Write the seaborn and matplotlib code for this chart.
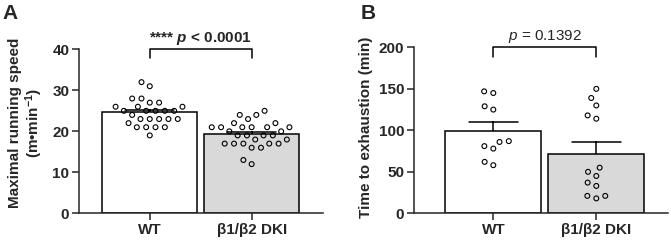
"""Figura com dois paineis: velocidade maxima e tempo ate exaustao"""

import matplotlib
matplotlib.use("Agg")
import matplotlib.pyplot as plt
import seaborn as sns
import pandas as pd

# Grupos e cores das barras
grupos = ["WT", "β1/β2 DKI"]
cores_barras = ["white", "#d9d9d9"]

# Painel A: velocidade maxima de corrida (m/min)
velocidade_wt = [32, 31, 28, 28, 27, 27, 26, 26, 26, 25, 25, 25, 25, 25, 24,
                 23, 23, 23, 23, 23, 22, 21, 21, 21, 21, 19]
velocidade_dki = [25, 24, 24, 23, 22, 22, 21, 21, 21, 21, 21, 21, 20, 20, 19,
                  19, 19, 19, 18, 18, 17, 17, 17, 17, 17, 16, 16, 13, 12]

# Painel B: tempo ate exaustao (min)
tempo_wt = [147, 145, 129, 125, 87, 86, 81, 78, 62, 58]
tempo_dki = [150, 139, 130, 118, 114, 55, 50, 45, 37, 33, 21, 21, 18]


def montar_df(valores_wt, valores_dki):
    return pd.DataFrame({
        "Grupo": [grupos[0]] * len(valores_wt) + [grupos[1]] * len(valores_dki),
        "Valor": valores_wt + valores_dki,
    })


sns.set_style("ticks")
plt.rcParams["font.family"] = ["Liberation Sans", "DejaVu Sans"]
plt.rcParams["font.weight"] = "bold"
plt.rcParams["axes.labelweight"] = "bold"
plt.rcParams["mathtext.fontset"] = "custom"
plt.rcParams["mathtext.rm"] = "Liberation Sans:bold"
plt.rcParams["mathtext.bf"] = "Liberation Sans:bold"
plt.rcParams["mathtext.it"] = "Liberation Sans:italic:normal"
plt.rcParams["mathtext.bfit"] = "Liberation Sans:italic:bold"

LW = 1.1
FS = 11


def plotar_painel(ax, df, ylim, yticks, xlim, ylabel, label_xy, texto_p, peso_p, perna):
    sns.barplot(data=df, x="Grupo", y="Valor", hue="Grupo", order=grupos,
                hue_order=grupos, palette=cores_barras, errorbar="se",
                capsize=0.48, err_kws={"color": "black", "linewidth": LW},
                width=0.93, edgecolor="black", linewidth=LW, legend=False, ax=ax)
    # barra de erro atras da barra (so a parte de cima aparece)
    for linha in ax.lines:
        linha.set_zorder(0.9)

    sns.swarmplot(data=df, x="Grupo", y="Valor", order=grupos, color="white",
                  edgecolor="black", linewidth=0.8, size=5.6, zorder=3, ax=ax)

    ax.set_xlim(*xlim)
    ax.set_ylim(*ylim)
    ax.set_yticks(yticks)
    ax.set_xlabel("")
    ax.set_ylabel(ylabel, fontsize=FS, linespacing=1.1)
    ax.yaxis.set_label_coords(*label_xy)
    sns.despine(ax=ax)
    for s in ["left", "bottom"]:
        ax.spines[s].set_linewidth(LW)
    ax.tick_params(axis="both", length=5, width=LW, labelsize=FS, pad=2)
    for t in ax.get_xticklabels() + ax.get_yticklabels():
        t.set_fontweight("bold")

    # Colchete de significancia
    topo = ylim[1]
    ax.plot([0, 0, 1, 1], [perna, topo, topo, perna], color="black",
            linewidth=LW, clip_on=False, zorder=4)
    ax.annotate(texto_p, xy=(0.5, topo), xytext=(0, 5.3), textcoords="offset points",
                ha="center", va="baseline", fontsize=FS, fontweight=peso_p,
                annotation_clip=False)


fig = plt.figure(figsize=(6.71, 2.44), dpi=100)
ax_a = fig.add_axes([0.1177, 0.1258, 0.3636, 0.672])
ax_b = fig.add_axes([0.617, 0.1258, 0.3785, 0.680])

plotar_painel(ax_a, montar_df(velocidade_wt, velocidade_dki), (0, 40), [0, 10, 20, 30, 40],
              (-0.695, 1.70), "Maximal running speed\n(m•min$^{-1}$)", (-0.14, 0.55),
              r"**** $\mathbfit{p}$ < 0.0001", "bold", 37.9)
plotar_painel(ax_b, montar_df(tempo_wt, tempo_dki), (0, 200), [0, 50, 100, 150, 200],
              (-0.77, 1.696), "Time to exhaustion (min)", (-0.16, 0.517),
              r"$\mathit{p}$ = 0.1392", "normal", 188.7)

# Calcula o layout do swarm com marcador grande e depois encolhe os marcadores
fig.canvas.draw()
for ax in (ax_a, ax_b):
    for col in ax.collections:
        if "draw" in col.__dict__:
            del col.draw
        col.set_sizes([3.5 ** 2])
        col.set_facecolor("none")

fig.text(0.003, 0.985, "A", fontsize=15, fontweight="bold", va="top")
fig.text(0.538, 0.985, "B", fontsize=15, fontweight="bold", va="top")

fig.savefig("out.png", dpi=100)
